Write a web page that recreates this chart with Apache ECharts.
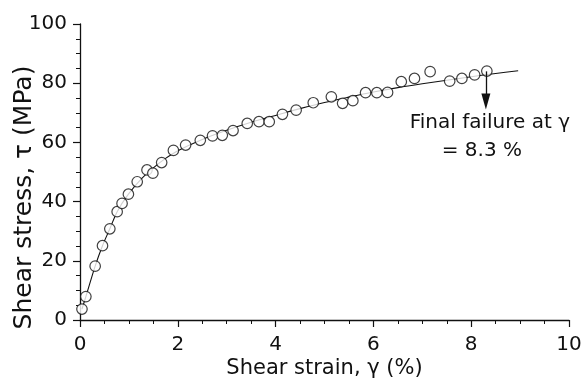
<!DOCTYPE html>
<html>
<head>
<meta charset="utf-8">
<script src="https://cdn.jsdelivr.net/npm/echarts@6/dist/echarts.min.js"></script>
<style>html,body{margin:0;padding:0;background:#fff}#c{width:584px;height:379px}</style>
</head>
<body>
<div id="c"></div>
<script>
// Measured points: shear strain (%) and shear stress (MPa)
var strainPts = [0.04,0.12,0.31,0.46,0.61,0.76,0.86,0.99,1.17,1.37,1.49,1.67,1.91,2.16,2.46,2.71,2.91,3.13,3.42,3.66,3.87,4.14,4.42,4.77,5.14,5.37,5.58,5.84,6.07,6.29,6.57,6.84,7.16,7.56,7.81,8.07,8.32];
var stressPts = [3.7,7.9,18.2,25.1,30.8,36.6,39.4,42.5,46.7,50.7,49.6,53.2,57.3,59.1,60.7,62.2,62.4,64.0,66.4,67.0,67.0,69.5,70.9,73.4,75.4,73.2,74.1,76.8,76.8,76.9,80.5,81.6,83.9,80.7,81.6,82.8,84.1];
// Fitted curve
var strainFit = [0.04,0.12,0.31,0.46,0.61,0.76,0.99,1.25,1.5,1.75,2.0,2.5,3.0,3.5,4.0,4.5,5.0,5.5,6.0,6.5,7.0,7.5,8.0,8.5,8.96];
var stressFit = [3.7,7.9,18.2,25.1,30.8,36.6,42.5,47.6,51.4,54.6,57.2,61.0,64.1,66.8,69.1,71.4,73.5,75.3,77.0,78.5,79.8,81.0,82.2,83.3,84.2];
// Failure annotation
var failStrain = 8.3;
var failArrow = [84.0, 73.8];
var xTicks = [0, 10, 2];
var yTicks = [0, 100, 20];

var chart = echarts.init(document.getElementById('c'), null, {renderer: 'canvas'});
var FONT = 'DejaVu Sans';
function zip(a, b) { return a.map(function (v, i) { return [v, b[i]]; }); }

chart.setOption({
  animation: false,
  backgroundColor: '#fff',
  grid: {left: 80, right: 15, top: 24, bottom: 59, containLabel: false, outerBoundsMode: 'none'},
  xAxis: {
    type: 'value', min: xTicks[0], max: xTicks[1], interval: xTicks[2],
    name: 'Shear strain, γ (%)', nameLocation: 'middle', nameGap: 38, nameMoveOverlap: false,
    nameTextStyle: {fontFamily: FONT, fontSize: 21, color: '#111'},
    axisLine: {show: true, lineStyle: {color: '#111', width: 1.3}},
    axisTick: {show: true, length: 7, lineStyle: {color: '#111', width: 1.2}},
    minorTick: {show: true, splitNumber: 4, length: 4, lineStyle: {color: '#111', width: 1}},
    axisLabel: {fontFamily: FONT, fontSize: 20, color: '#111', margin: 15},
    splitLine: {show: false}
  },
  yAxis: {
    type: 'value', min: yTicks[0], max: yTicks[1], interval: yTicks[2],
    name: 'Shear stress, τ (MPa)', nameLocation: 'middle', nameGap: 43, nameMoveOverlap: false,
    nameTextStyle: {fontFamily: FONT, fontSize: 25, color: '#111', padding: [0, 51, 0, 0]},
    axisLine: {show: true, lineStyle: {color: '#111', width: 1.3}},
    axisTick: {show: true, length: 7, lineStyle: {color: '#111', width: 1.2}},
    minorTick: {show: true, splitNumber: 4, length: 4, lineStyle: {color: '#111', width: 1}},
    axisLabel: {fontFamily: FONT, fontSize: 20, color: '#111', margin: 13},
    splitLine: {show: false}
  },
  series: [
    {
      type: 'line', data: zip(strainFit, stressFit), showSymbol: false, smooth: 0.3,
      lineStyle: {color: '#111', width: 1.1}, z: 2, silent: true,
      markLine: {
        silent: true, animation: false,
        symbol: ['none', 'triangle'], symbolSize: [9, 16],
        lineStyle: {color: '#111', width: 1.3, type: 'solid'},
        label: {show: false},
        data: [[{coord: [failStrain, failArrow[0]]}, {coord: [failStrain, failArrow[1]]}]]
      }
    },
    {
      type: 'scatter', data: zip(strainPts, stressPts), symbol: 'circle', symbolSize: 10.5,
      itemStyle: {color: '#fff', borderColor: '#111', borderWidth: 1.2}, z: 3
    }
  ]
});

var tip = chart.convertToPixel({gridIndex: 0}, [failStrain, failArrow[1]]);
chart.setOption({
  graphic: [
    {type: 'text', x: tip[0] + 4, y: tip[1] + 21, style: {text: 'Final failure at γ', font: '20px "DejaVu Sans"', fill: '#111', align: 'center', verticalAlign: 'middle'}},
    {type: 'text', x: tip[0] - 4, y: tip[1] + 49, style: {text: '= 8.3 %', font: '20px "DejaVu Sans"', fill: '#111', align: 'center', verticalAlign: 'middle'}}
  ]
});
</script>
</body>
</html>
